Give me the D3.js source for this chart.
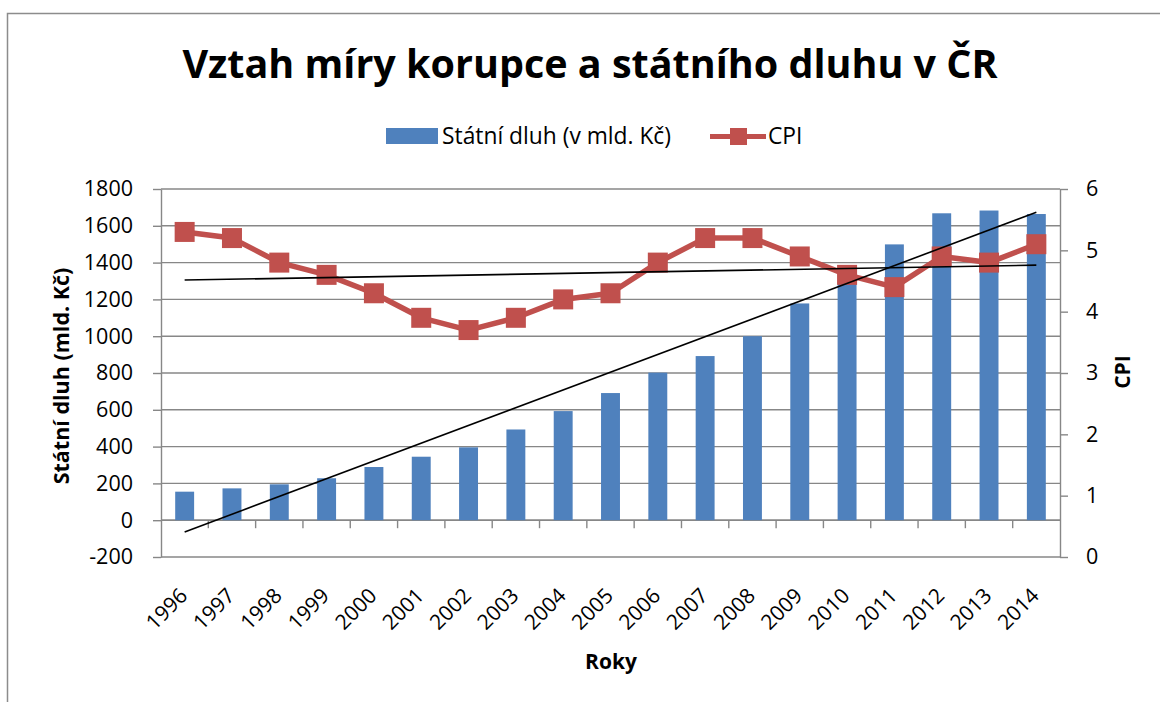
<!DOCTYPE html>
<html lang="cs">
<head>
    <meta charset="UTF-8">
    <title>Vztah míry korupce a státního dluhu v ČR</title>
    <style>
    body { margin:0; background:#fff; }
    svg { display:block; font-family: "Open Sans", Lato, sans-serif; }
    </style>
</head>
<body>
    <svg class="chart"></svg>
</body>

<script src="https://cdn.jsdelivr.net/npm/d3@7"></script>

<script>

    // data
    var years = ["1996","1997","1998","1999","2000","2001","2002","2003","2004","2005",
                 "2006","2007","2008","2009","2010","2011","2012","2013","2014"];
    var debt = [155, 173, 195, 228, 289, 345, 396, 493, 593, 691,
                802, 892, 1000, 1178, 1344, 1499, 1668, 1683, 1664];
    var cpi = [5.3, 5.2, 4.8, 4.6, 4.3, 3.9, 3.7, 3.9, 4.2, 4.3,
               4.8, 5.2, 5.2, 4.9, 4.6, 4.4, 4.9, 4.8, 5.1];
    var leftTicks = [-200, 0, 200, 400, 600, 800, 1000, 1200, 1400, 1600, 1800];
    var rightTicks = [0, 1, 2, 3, 4, 5, 6];

    var svgWidth = 1160, svgHeight = 702;
    var plot = {left: 161, right: 1060, top: 189, bottom: 557};
    var grey = "#878787", blue = "#4F81BD", red = "#C0504D";

    var svg = d3.select('svg')
        .attr('width', svgWidth)
        .attr('height', svgHeight);

    // outer chart frame (runs past the window edge)
    svg.append("rect")
        .attr("x", 7.5).attr("y", 13.5)
        .attr("width", 1300).attr("height", 900)
        .attr("fill", "none")
        .attr("stroke", "#8c8c8c")
        .attr("stroke-width", 1.5);

    var xScale = d3.scaleBand()
        .domain(years)
        .range([plot.left, plot.right])
        .paddingInner(0.6)
        .paddingOuter(0.3);

    var yLeft = d3.scaleLinear()
        .domain([-200, 1800])
        .range([plot.bottom, plot.top]);

    var yRight = d3.scaleLinear()
        .domain([0, 6])
        .range([plot.bottom, plot.top]);

    function cx(d) { return xScale(d) + xScale.bandwidth() / 2; }
    function plain(d) { return String(d); }

    // gridlines
    svg.append("g").selectAll("line")
        .data(leftTicks)
        .enter()
        .append("line")
        .attr("x1", plot.left).attr("x2", plot.right)
        .attr("y1", function(d) { return yLeft(d); })
        .attr("y2", function(d) { return yLeft(d); })
        .attr("stroke", grey)
        .attr("stroke-width", 1.4);

    // left axis
    var leftAxis = svg.append("g")
        .attr("transform", "translate(" + plot.left + ",0)")
        .call(d3.axisLeft(yLeft).tickValues(leftTicks).tickFormat(plain)
            .tickSize(8).tickPadding(20).tickSizeOuter(0));

    // right axis
    var rightAxis = svg.append("g")
        .attr("transform", "translate(" + plot.right + ",0)")
        .call(d3.axisRight(yRight).tickValues(rightTicks).tickFormat(plain)
            .tickSize(8).tickPadding(18).tickSizeOuter(0));

    [leftAxis, rightAxis].forEach(function(g) {
        g.select(".domain").attr("stroke", grey).attr("stroke-width", 1.4);
        g.selectAll(".tick line").attr("stroke", grey).attr("stroke-width", 1.4);
        g.selectAll(".tick text")
            .attr("fill", "#000")
            .style("font-size", "21.5px")
            .style("font-family", "'Open Sans', sans-serif");
    });

    // category axis sits on zero
    var zeroY = yLeft(0);
    svg.append("line")
        .attr("x1", plot.left).attr("x2", plot.right)
        .attr("y1", zeroY).attr("y2", zeroY)
        .attr("stroke", grey).attr("stroke-width", 1.4);

    svg.append("g").selectAll("line")
        .data(years.slice(1))
        .enter()
        .append("line")
        .attr("x1", function(d) { return xScale(d) - xScale.step() * 0.3; })
        .attr("x2", function(d) { return xScale(d) - xScale.step() * 0.3; })
        .attr("y1", zeroY).attr("y2", zeroY + 8)
        .attr("stroke", grey).attr("stroke-width", 1.4);

    // bars
    svg.append("g").selectAll("rect")
        .data(years)
        .enter()
        .append("rect")
        .attr("x", function(d) { return xScale(d); })
        .attr("width", xScale.bandwidth())
        .attr("y", function(d, i) { return yLeft(debt[i]); })
        .attr("height", function(d, i) { return zeroY - yLeft(debt[i]); })
        .style("fill", blue);

    // CPI line + markers
    var cpiLine = d3.line()
        .x(function(d, i) { return cx(years[i]); })
        .y(function(d) { return yRight(d); });

    svg.append("path")
        .datum(cpi)
        .attr("d", cpiLine)
        .attr("fill", "none")
        .attr("stroke", red)
        .attr("stroke-width", 5.5)
        .attr("stroke-linejoin", "round");

    var m = 20;
    svg.append("g").selectAll("rect")
        .data(cpi)
        .enter()
        .append("rect")
        .attr("x", function(d, i) { return cx(years[i]) - m / 2; })
        .attr("y", function(d) { return yRight(d) - m / 2; })
        .attr("width", m).attr("height", m)
        .style("fill", red);

    // linear trendlines (least squares over 1..n)
    function fit(vals) {
        var n = vals.length;
        var xs = vals.map(function(v, i) { return i + 1; });
        var mx = d3.mean(xs), my = d3.mean(vals);
        var num = d3.sum(vals, function(v, i) { return (xs[i] - mx) * (v - my); });
        var den = d3.sum(xs, function(x) { return (x - mx) * (x - mx); });
        var b = num / den, a = my - b * mx;
        return [a + b * 1, a + b * n];
    }

    var debtFit = fit(debt), cpiFit = fit(cpi);
    var first = years[0], last = years[years.length - 1];

    svg.append("line")
        .attr("x1", cx(first)).attr("x2", cx(last))
        .attr("y1", yLeft(debtFit[0])).attr("y2", yLeft(debtFit[1]))
        .attr("stroke", "#000").attr("stroke-width", 1.6);

    svg.append("line")
        .attr("x1", cx(first)).attr("x2", cx(last))
        .attr("y1", yRight(cpiFit[0])).attr("y2", yRight(cpiFit[1]))
        .attr("stroke", "#000").attr("stroke-width", 1.6);

    // x labels, rotated
    svg.append("g").selectAll("text")
        .data(years)
        .enter()
        .append("text")
        .text(function(d) { return d; })
        .attr("text-anchor", "end")
        .attr("transform", function(d) {
            return "translate(" + (cx(d) + 4) + ",597) rotate(-45)";
        })
        .style("font-size", "21px");

    // titles
    svg.append("text")
        .text("Vztah míry korupce a státního dluhu v ČR")
        .attr("x", 590).attr("y", 78)
        .attr("text-anchor", "middle")
        .style("font-size", "39.5px")
        .style("font-weight", "bold");

    svg.append("text")
        .text("Roky")
        .attr("x", 611).attr("y", 669)
        .attr("text-anchor", "middle")
        .style("font-size", "21px")
        .style("font-weight", "bold");

    svg.append("text")
        .text("Státní dluh (mld. Kč)")
        .attr("transform", "translate(69,376) rotate(-90)")
        .attr("text-anchor", "middle")
        .style("font-size", "21.5px")
        .style("font-weight", "bold");

    svg.append("text")
        .text("CPI")
        .attr("transform", "translate(1130,372) rotate(-90)")
        .attr("text-anchor", "middle")
        .style("font-size", "21px")
        .style("font-weight", "bold");

    // legend
    var legend = svg.append("g");
    legend.append("rect")
        .attr("x", 386).attr("y", 128)
        .attr("width", 52).attr("height", 16)
        .style("fill", blue);
    legend.append("text")
        .text("Státní dluh (v mld. Kč)")
        .attr("x", 442).attr("y", 144)
        .style("font-size", "22.8px");
    legend.append("line")
        .attr("x1", 710).attr("x2", 766)
        .attr("y1", 136.5).attr("y2", 136.5)
        .attr("stroke", red).attr("stroke-width", 5);
    legend.append("rect")
        .attr("x", 730).attr("y", 128)
        .attr("width", 17).attr("height", 17)
        .style("fill", red);
    legend.append("text")
        .text("CPI")
        .attr("x", 768).attr("y", 144)
        .style("font-size", "22.8px");

</script>
</html>
